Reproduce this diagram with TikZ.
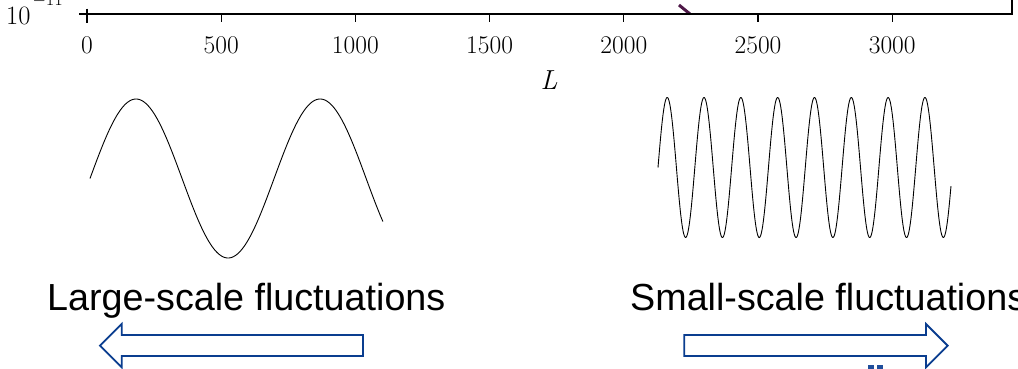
\documentclass[tikz,border=0pt]{standalone}
\usepackage{fontspec}
\newfontfamily\labelsans{Liberation Sans}
\definecolor{arrowblue}{HTML}{0A3D8F}
\definecolor{markblue}{HTML}{1F4E9C}
\definecolor{curvepurple}{HTML}{4E1848}
\tikzset{
  axisline/.style={line width=1.5pt, black},
  ticklab/.style={inner sep=0pt, font=\fontsize{25.5}{30}\selectfont},
  wave/.style={line width=0.9pt, black},
  caption/.style={inner sep=0pt, anchor=base west, font=\labelsans\fontsize{37.7}{44}\selectfont},
  blockarrow/.style={draw=arrowblue, line width=1.8pt, fill=white, line join=miter},
}
\begin{document}
\begin{tikzpicture}[x=1pt,y=-1pt]
\useasboundingbox (0,0) rectangle (1018,368);
\clip (0,0) rectangle (1018,368);
% purple curve fragment
\draw[curvepurple, line width=3pt] (679,5) -- (690,14);
% axis
\coordinate (a0) at (87,14);
\coordinate (a1) at (1012,14);
\draw[axisline] (a0) -- (a1) -- (1012,0);
\draw[axisline] (87,8.5) -- (87,22.5);
\draw[axisline] (79,14) -- (a0);
\node[inner sep=0pt, anchor=base west, font=\fontsize{26.5}{30}\selectfont] (ylab) at (6,24)
  {10\kern2pt\raisebox{19pt}{\fontsize{18.5}{20}\selectfont$-$11}};
\foreach \v [count=\i from 0] in {0,500,1000,1500,2000,2500,3000}{
  \pgfmathsetmacro{\xx}{87+\i*134.2}
  \draw[axisline, line width=1.2pt] (\xx,14) -- (\xx,22);
  \node[ticklab, anchor=north] (t\i) at (\xx,36) {\v};
}
\node[inner sep=0pt, anchor=base, font=\fontsize{27.5}{32}\selectfont\itshape] (xlab) at (549,89) {L};
% waves
\draw[wave] plot[domain=0:10, samples=250, smooth] ({90+29.3*\x},{178.5-79.5*sin(\x r)});
\draw[wave] plot[domain=0:10, samples=600, smooth] ({658+29.3*\x},{167.5-70*sin(5*\x r)});
% captions
\node[caption] (large) at (47,310) {Large-scale fluctuations};
\node[caption] (small) at (630,310) {Small-scale fluctuations};
% block arrows
\draw[blockarrow] (100,345.7) -- (121.7,324) -- (121.7,335) -- (363,335) -- (363,356) -- (121.7,356) -- (121.7,367.4) -- cycle;
\draw[blockarrow] (684.3,335) -- (926,335) -- (926,324) -- (947.7,345.7) -- (926,367.4) -- (926,356) -- (684.3,356) -- cycle;
% blue marks at bottom edge
\fill[markblue] (867.7,365) rectangle (874.3,369);
\fill[markblue] (876.7,365) rectangle (883.3,369);
\end{tikzpicture}
\end{document}
